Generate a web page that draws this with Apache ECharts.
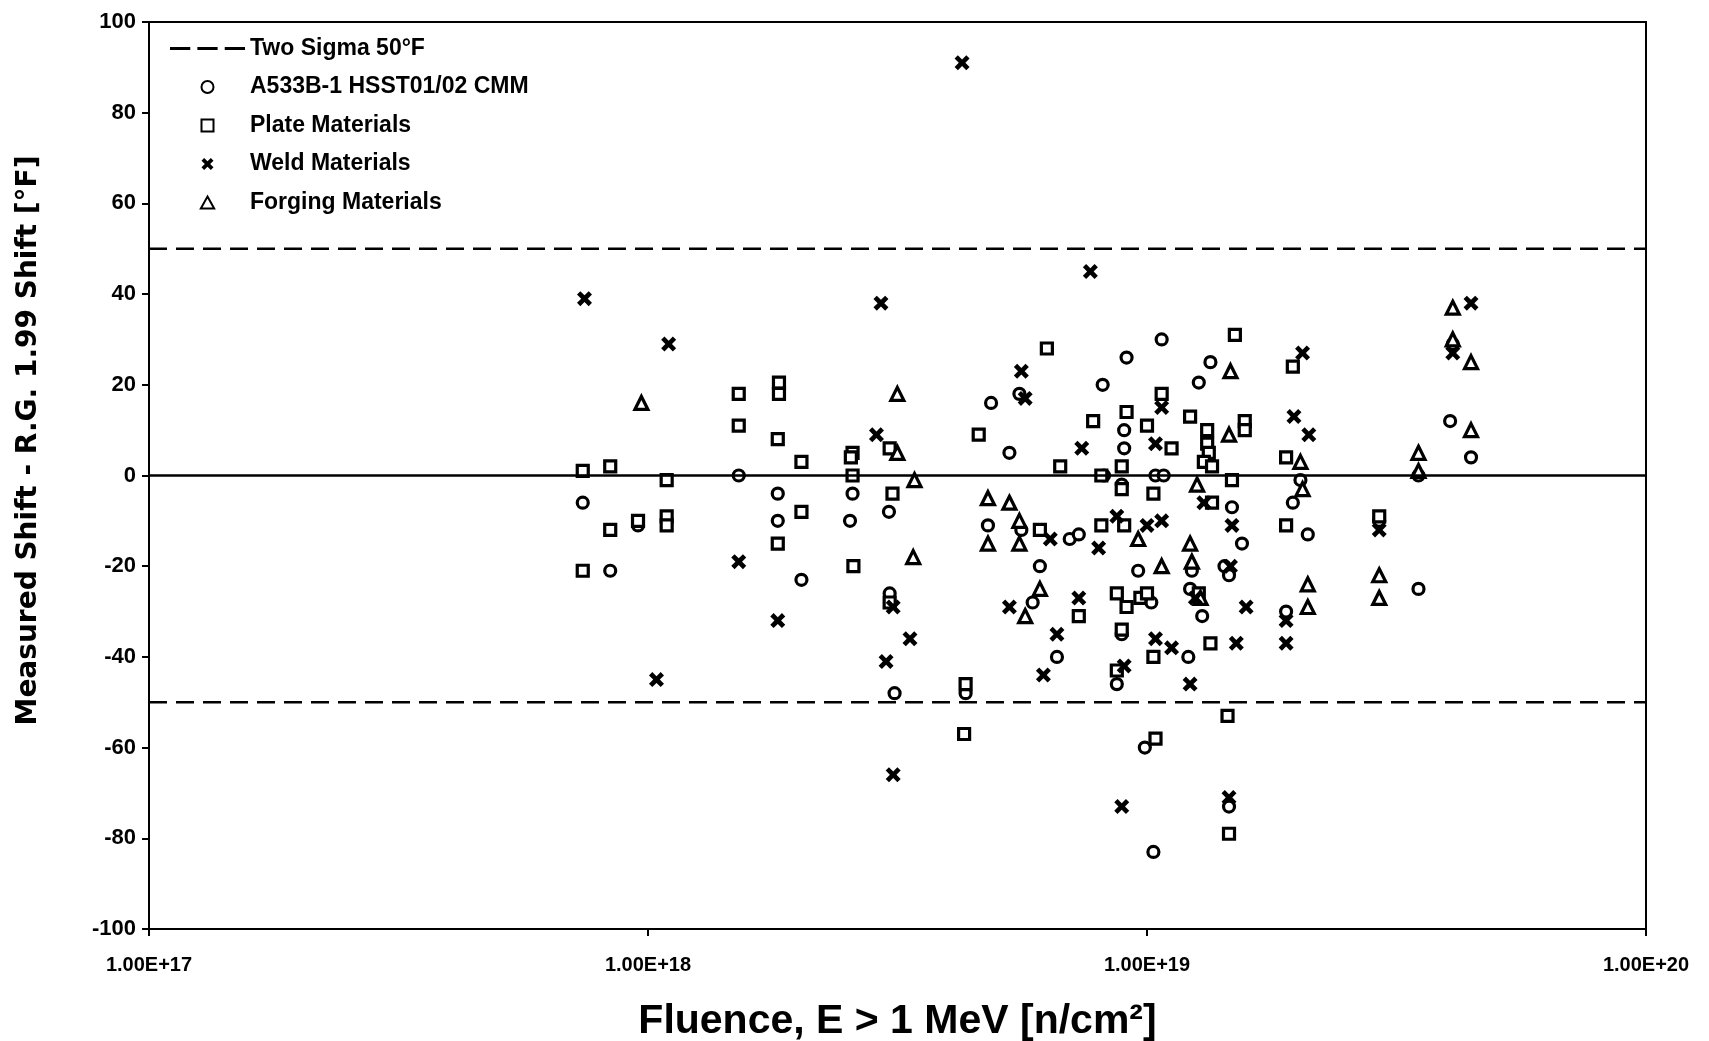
<!DOCTYPE html>
<html>
<head>
<meta charset="utf-8">
<script src="https://cdn.jsdelivr.net/npm/echarts@6/dist/echarts.min.js"></script>
<style>
html,body{margin:0;padding:0;background:#fff;}
#chart{width:1709px;height:1041px;}
</style>
</head>
<body>
<div id="chart"></div>
<script>
// ---- Data (fluence [n/cm^2], shift residual [°F]) ----
const hsstData = [
  [7.4e17,-6],[8.4e17,-21],[9.55e17,-11],[1.52e18,0],[1.82e18,-4],[1.82e18,-10],[2.03e18,-23],
  [2.57e18,-4],[2.54e18,-10],[3.04e18,-8],[3.05e18,-26],[3.12e18,-48],[4.33e18,-48],[4.8e18,-11],
  [4.87e18,16],[5.3e18,5],[5.55e18,18],[5.6e18,-12],[6.1e18,-20],[5.9e18,-28],[6.6e18,-40],
  [7.0e18,-14],[7.3e18,-13],[8.15e18,20],[8.2e18,0],[8.9e18,-2],[8.9e18,-35],[8.7e18,-46],
  [9.0e18,10],[9.0e18,6],[9.1e18,26],[9.6e18,-21],[9.8e18,-27],[1.02e19,-28],[9.9e18,-60],
  [1.03e19,-83],[1.04e19,0],[1.08e19,0],[1.07e19,30],[1.21e19,-40],[1.22e19,-25],[1.23e19,-21],
  [1.27e19,20.5],[1.29e19,-31],[1.34e19,25],[1.43e19,-20],[1.46e19,-22],[1.46e19,-73],[1.48e19,-7],
  [1.55e19,-15],[1.96e19,-6],[2.03e19,-1],[2.1e19,-13],[1.9e19,-30],[2.92e19,-10],[3.5e19,-25],
  [3.5e19,0],[4.05e19,12],[4.46e19,4],[4.1e19,29]
];
const plateData = [
  [7.4e17,1],[8.4e17,2],[8.4e17,-12],[7.4e17,-21],[9.55e17,-10],[1.09e18,-1],[1.09e18,-9],[1.09e18,-11],
  [1.52e18,18],[1.52e18,11],[1.83e18,20.5],[1.83e18,18],[1.82e18,8],[1.82e18,-15],[2.03e18,3],[2.03e18,-8],
  [2.57e18,5],[2.55e18,4],[2.57e18,0],[2.58e18,-20],[3.05e18,6],[3.09e18,-4],[3.05e18,-28],[4.33e18,-46],
  [4.3e18,-57],[4.6e18,9],[6.1e18,-12],[6.3e18,28],[6.7e18,2],[7.3e18,-31],[7.8e18,12],[8.1e18,0],
  [8.1e18,-11],[8.9e18,2],[8.9e18,-3],[9.0e18,-11],[8.7e18,-26],[9.1e18,-29],[9.1e18,14],[8.9e18,-34],
  [8.7e18,-43],[9.7e18,-27],[1.0e19,-26],[1.0e19,11],[1.03e19,-4],[1.03e19,-40],[1.04e19,-58],[1.07e19,18],
  [1.12e19,6],[1.22e19,13],[1.27e19,-26],[1.32e19,10],[1.32e19,7],[1.33e19,5],[1.30e19,3],[1.35e19,2],
  [1.35e19,-6],[1.34e19,-37],[1.45e19,-53],[1.46e19,-79],[1.48e19,-1],[1.5e19,31],[1.57e19,12],[1.57e19,10],
  [1.9e19,4],[1.96e19,24],[1.9e19,-11],[2.92e19,-9]
];
const weldData = [
  [7.46e17,39],[1.04e18,-45],[1.1e18,29],[1.52e18,-19],[1.82e18,-32],[2.87e18,9],[2.93e18,38],[3.1e18,-29],
  [3.0e18,-41],[3.35e18,-36],[3.1e18,-66],[4.26e18,91],[5.3e18,-29],[5.6e18,23],[5.7e18,17],[6.2e18,-44],
  [6.4e18,-14],[6.6e18,-35],[7.3e18,-27],[7.4e18,6],[7.7e18,45],[8.0e18,-16],[8.7e18,-9],[8.9e18,-73],
  [9.0e18,-42],[1.0e19,-11],[1.04e19,7],[1.04e19,-36],[1.07e19,15],[1.07e19,-10],[1.12e19,-38],[1.22e19,-46],
  [1.25e19,-27],[1.3e19,-6],[1.47e19,-20],[1.46e19,-71],[1.48e19,-11],[1.51e19,-37],[1.58e19,-29],[1.9e19,-32],
  [1.9e19,-37],[1.97e19,13],[2.05e19,27],[2.11e19,9],[2.92e19,-12],[4.1e19,27],[4.46e19,38]
];
const forgingData = [
  [9.7e17,16],[3.16e18,18],[3.16e18,5],[3.42e18,-1],[3.4e18,-18],[4.8e18,-5],[4.8e18,-15],[5.3e18,-6],
  [5.55e18,-10],[5.55e18,-15],[5.7e18,-31],[6.1e18,-25],[9.6e18,-14],[1.07e19,-20],[1.22e19,-15],[1.23e19,-19],
  [1.26e19,-2],[1.28e19,-27],[1.46e19,9],[1.47e19,23],[2.03e19,3],[2.05e19,-3],[2.1e19,-24],[2.1e19,-29],
  [2.92e19,-22],[2.92e19,-27],[3.5e19,5],[3.5e19,1],[4.1e19,37],[4.1e19,30],[4.46e19,25],[4.46e19,10]
];
const sigmaUpper = [[1e17,50],[1e20,50]];
const sigmaLower = [[1e17,-50],[1e20,-50]];
const xRange = [1e17, 1e20];
const yTicks = {min:-100, max:100, interval:20};
const names = ['Two Sigma 50°F','A533B-1 HSST01/02 CMM','Plate Materials','Weld Materials','Forging Materials'];

const ARIAL = '"Liberation Sans", Arial, sans-serif';
const XPATH = 'path://M0,2.2 L2.2,0 L5,2.8 L7.8,0 L10,2.2 L7.2,5 L10,7.8 L7.8,10 L5,7.2 L2.2,10 L0,7.8 L2.8,5 Z';
const DASHICON = 'path://M0,0 H20 V3 H0 Z M27,0 H47 V3 H27 Z M54,0 H74 V3 H54 Z';
const SQICON = 'path://M0,0 H10 V10 H0 Z';
const TRIICON = 'path://M5,0 L10,9 L0,9 Z';

const chart = echarts.init(document.getElementById('chart'), null, {renderer:'canvas'});
const hollow = {color:'#fff', borderColor:'#000', borderWidth:3.2, opacity:1};
const dashLine = {color:'#000', width:2.5, type:[18,9]};

chart.setOption({
  backgroundColor:'#fff',
  animation:false,
  grid:{left:149, right:63, top:22, bottom:112, outerBoundsMode:'none', containLabel:false,
        show:true, borderColor:'#000', borderWidth:2, backgroundColor:'transparent'},
  legend:{
    orient:'vertical', left:165, top:32, itemWidth:75, itemHeight:12, itemGap:15.5,
    data:[
      {name:names[0], icon:DASHICON},
      {name:names[1]}, {name:names[2], icon:SQICON}, {name:names[3]}, {name:names[4], icon:TRIICON}
    ],
    textStyle:{fontFamily:ARIAL, fontWeight:'bold', fontSize:23, color:'#000'},
    selectedMode:false
  },
  xAxis:{
    type:'log', logBase:10, min:xRange[0], max:xRange[1],
    name:'Fluence, E > 1 MeV [n/cm²]', nameLocation:'middle', nameGap:72,
    nameTextStyle:{fontFamily:ARIAL, fontWeight:'bold', fontSize:41, color:'#000'},
    axisLine:{show:true, onZero:false, lineStyle:{color:'#000', width:2}},
    axisTick:{show:true, length:7, lineStyle:{color:'#000', width:2}},
    minorTick:{show:false},
    axisLabel:{margin:26, fontFamily:ARIAL, fontWeight:'bold', fontSize:20, color:'#000',
      formatter:v => Number(v).toExponential(2).toUpperCase()},
    splitLine:{show:false}
  },
  yAxis:{
    type:'value', min:yTicks.min, max:yTicks.max, interval:yTicks.interval,
    name:'Measured Shift - R.G. 1.99 Shift [°F]', nameLocation:'middle', nameGap:106, nameRotate:90,
    nameTextStyle:{fontFamily:'"DejaVu Sans", sans-serif', fontWeight:'bold', fontSize:28, color:'#000', padding:[0,0,0,70]},
    axisLine:{show:true, onZero:false, lineStyle:{color:'#000', width:2}},
    axisTick:{show:true, length:7, lineStyle:{color:'#000', width:2}},
    axisLabel:{margin:13, fontFamily:ARIAL, fontWeight:'bold', fontSize:22, color:'#000'},
    splitLine:{show:false}
  },
  series:[
    {name:names[0], type:'line', data:sigmaUpper, symbol:'none', showSymbol:false, lineStyle:dashLine, itemStyle:{color:'#000'}, z:1,
     markLine:{silent:true, symbol:'none', label:{show:false}, data:[{yAxis:0}], lineStyle:{color:'#000', width:2.5, type:'solid'}}},
    {name:names[0], type:'line', data:sigmaLower, symbol:'none', showSymbol:false, lineStyle:dashLine, itemStyle:{color:'#000'}, z:1},
    {name:names[1], type:'scatter', data:hsstData, symbol:'circle', symbolSize:11, itemStyle:hollow, z:3},
    {name:names[2], type:'scatter', data:plateData, symbol:'rect', symbolSize:11, itemStyle:hollow, z:3},
    {name:names[3], type:'scatter', data:weldData, symbol:XPATH, symbolSize:15, symbolKeepAspect:true, itemStyle:{color:'#000', opacity:1}, z:4},
    {name:names[4], type:'scatter', data:forgingData, symbol:'triangle', symbolSize:13, itemStyle:hollow, z:3}
  ]
});
</script>
</body>
</html>
